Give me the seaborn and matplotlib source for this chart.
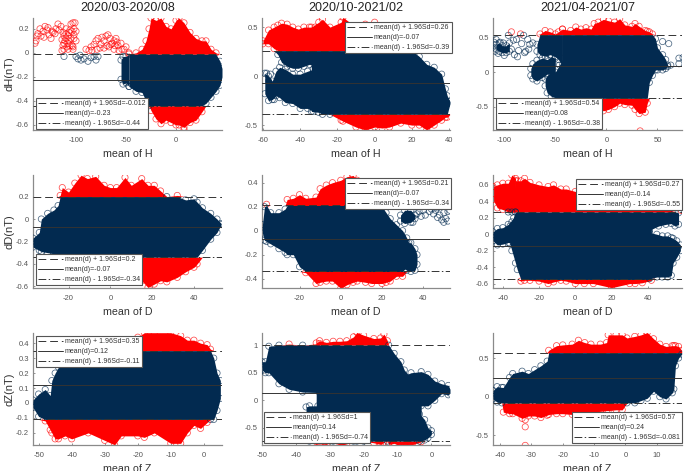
import numpy as np
import matplotlib
matplotlib.use("Agg")
import matplotlib.pyplot as plt
from matplotlib.lines import Line2D
import seaborn as sns

sns.set_theme(style="white")
plt.rcParams['font.family'] = ['Liberation Sans', 'DejaVu Sans']

NAVY = "#022a50"
RED = "#ff0000"
W, H = 685, 471

titles = ["2020/03-2020/08", "2020/10-2021/02", "2021/04-2021/07"]
components = ["H", "D", "Z"]

# limits of agreement per panel, row by row
upper_lim = [-0.012, 0.26, 0.54, 0.2, 0.21, 0.27, 0.35, 1, 0.57]
mean_d = [-0.23, -0.07, 0.08, -0.07, -0.07, -0.14, 0.12, 0.14, 0.24]
lower_lim = [-0.44, -0.39, -0.38, -0.34, -0.34, -0.55, -0.11, -0.74, -0.081]

# cloud outlines: x, top edge, bottom edge
h1_x = [-47, -40, -34, -30, -27, -25, -20, -15, -10, -5, 0, 3, 8, 14, 20, 26, 30, 35, 40, 44, 46]
h1_top = [-0.01, 0, 0.03, 0.1, 0.2, 0.29, 0.27, 0.29, 0.22, 0.2, 0.27, 0.29, 0.25, 0.17, 0.12, 0.1, 0.1, 0.03, 0, -0.07, -0.13]
h1_bot = [-0.28, -0.32, -0.33, -0.4, -0.44, -0.48, -0.55, -0.59, -0.56, -0.58, -0.6, -0.6, -0.62, -0.58, -0.56, -0.49, -0.42, -0.37, -0.32, -0.27, -0.2]
h1b_x = [-55, -53, -50, -47]
h1b_top = [-0.06, -0.03, -0.03, 0]
h1b_bot = [-0.22, -0.26, -0.25, -0.28]
h1_px = [-141, -140, -138, -136, -133, -131, -129, -127, -125, -123, -120, -118, -115, -113, -112, -110, -108, -106, -105, -103, -102, -101, -112, -110, -108, -105, -102, -114, -107, -104, -100, -112, -108, -103, -90, -87, -85, -82, -80, -78, -75, -72, -70, -68, -66, -64, -62, -60, -58, -55, -52, -50, -72, -67, -62, -57, -112, -100, -98, -96, -95, -92, -88, -85, -82, -80, -78, 8,
         -139, -135, -132, -128, -124, -121, -117, -114, -111, -109, -107, -104, -102, -106, -110, -113, -103, -100, -76, -74, -69, -65, -61, -59, -54, -84, -79]
h1_py = [0.08, 0.1, 0.16, 0.2, 0.18, 0.22, 0.19, 0.15, 0.12, 0.17, 0.2, 0.24, 0.22, 0.17, 0.14, 0.2, 0.08, 0.19, 0.24, 0.25, 0.2, 0.25, 0.08, 0.12, 0.03, 0.12, 0.15, 0.02, 0.17, 0.06, 0.1, 0.03, 0.14, 0.03, 0.03, 0.02, 0.05, 0.07, 0.1, 0.12, 0.07, 0.1, 0.14, 0.15, 0.12, 0.08, 0.1, 0.12, 0.06, 0.08, 0.03, 0.05, 0.04, 0.05, 0.03, 0.02, -0.03, -0.03, -0.05, -0.02, -0.06, -0.05, -0.07, -0.04, -0.03, -0.06, -0.03, -0.64,
         0.14, 0.14, 0.13, 0.21, 0.18, 0.16, 0.19, 0.11, 0.1, 0.05, 0.1, 0.18, 0.12, 0.06, 0.16, 0.06, 0.05, 0.18, 0.04, 0.13, 0.06, 0.07, 0.06, 0.09, 0.03, 0.02, 0.03]

h2a_x = [-60, -57, -54, -52, -50, -47, -44, -41, -38, -35, -32]
h2a_top = [0.36, 0.47, 0.5, 0.52, 0.54, 0.53, 0.5, 0.48, 0.5, 0.5, 0.5]
h2a_bot = [0.33, 0.33, 0.28, 0.22, 0.14, 0.1, 0.08, 0.08, 0.1, 0.12, 0.1]
h2b_x = [-59, -57, -55, -53, -51, -48, -44, -40, -36, -33]
h2b_top = [0.03, 0, -0.05, 0.05, 0.09, 0.07, 0.02, 0.02, 0.05, 0.07]
h2b_bot = [-0.18, -0.25, -0.24, -0.2, -0.22, -0.27, -0.28, -0.33, -0.33, -0.36]
h2_x = [-34, -30, -28, -24, -18, -17, -10, -5, 0, 4, 8, 14, 20, 24, 28, 32, 36, 38, 39, 40.5]
h2_top = [0.5, 0.55, 0.58, 0.5, 0.55, 0.6, 0.5, 0.53, 0.55, 0.5, 0.45, 0.3, 0.26, 0.2, 0.12, 0.09, 0.02, -0.13, -0.2, -0.26]
h2_bot = [-0.36, -0.37, -0.39, -0.39, -0.45, -0.46, -0.52, -0.55, -0.52, -0.53, -0.52, -0.48, -0.5, -0.5, -0.55, -0.5, -0.45, -0.42, -0.42, -0.28]
h2_px = [-58, -57, -56, -55, -54, -56]
h2_py = [0.03, -0.05, -0.12, -0.2, -0.24, 0.02]

h3a_x = [-68, -65, -60, -55, -50, -47, -43]
h3a_top = [0.4, 0.55, 0.6, 0.58, 0.55, 0.58, 0.62]
h3a_bot = [0.3, 0.25, 0.23, 0.25, 0.22, 0.18, 0.1]
h3b_x = [-74, -72, -68, -63, -58, -54, -50]
h3b_top = [0.05, 0.12, 0.17, 0.2, 0.18, 0.22, 0.2]
h3b_bot = [-0.05, -0.1, -0.13, -0.08, -0.03, -0.02, -0.05]
h3c_x = [-60, -58, -54, -50, -46, -42]
h3c_top = [-0.1, -0.05, 0, 0, 0.1, 0.2]
h3c_bot = [-0.2, -0.3, -0.35, -0.37, -0.38, -0.38]
h3d_x = [-108, -105, -102, -98, -95]
h3d_top = [0.4, 0.42, 0.38, 0.38, 0.42]
h3d_bot = [0.33, 0.3, 0.28, 0.28, 0.3]
h3_x = [-43, -35, -30, -25, -20, -15, -12, -8, -3, 2, 8, 13, 18, 25, 28, 32, 38, 40, 42, 45, 48, 50, 55, 58, 60]
h3_top = [0.62, 0.6, 0.65, 0.62, 0.64, 0.62, 0.7, 0.72, 0.76, 0.74, 0.72, 0.77, 0.68, 0.66, 0.7, 0.66, 0.6, 0.59, 0.58, 0.55, 0.48, 0.35, 0.25, 0.18, 0.1]
h3_bot = [-0.38, -0.45, -0.5, -0.48, -0.52, -0.52, -0.53, -0.53, -0.56, -0.54, -0.5, -0.45, -0.47, -0.48, -0.54, -0.6, -0.58, -0.45, -0.15, -0.05, 0.03, 0.03, 0.03, 0.05, 0.08]
h3_px = [-111, -110, -109, -108, -106, -104, -101, -100, -96, -93, -91, -90, -88, -86, -84, -83, -81, -79, -77, -75, -72, -93, -87, -80, -76, 55, 61, 71, 75, 71, 63, 33]
h3_py = [0.36, 0.43, 0.3, 0.47, 0.27, 0.43, 0.42, 0.24, 0.53, 0.33, 0.46, 0.25, 0.47, 0.31, 0.55, 0.41, 0.53, 0.3, 0.47, 0.4, 0.42, 0.58, 0.22, 0.28, 0.33, 0.44, 0.41, 0.2, 0.21, 0.12, 0.1, -0.85]

d1_x = [-37, -34, -33, -30, -27, -25, -24, -23, -20, -17, -14, -11, -7, -3, 0, 3, 7, 10, 15, 18, 21, 24, 27, 32, 36, 40, 41.5, 44, 48, 51, 53]
d1_top = [-0.17, -0.12, 0, 0.05, 0.08, 0.12, 0.21, 0.28, 0.24, 0.32, 0.39, 0.36, 0.38, 0.3, 0.28, 0.28, 0.37, 0.3, 0.36, 0.3, 0.3, 0.25, 0.2, 0.21, 0.17, 0.18, 0.15, 0.1, 0.05, 0, -0.04]
d1_bot = [-0.25, -0.28, -0.29, -0.3, -0.31, -0.32, -0.32, -0.33, -0.34, -0.35, -0.36, -0.36, -0.38, -0.4, -0.42, -0.44, -0.47, -0.5, -0.55, -0.61, -0.58, -0.55, -0.56, -0.52, -0.47, -0.43, -0.4, -0.28, -0.18, -0.12, -0.05]

d2_x = [-38, -37, -36, -34, -30, -27, -26, -23, -20, -17, -12, -10, -7, -4, 0, 3, 6, 8, 12, 15, 20, 22, 24, 27, 30, 32, 33]
d2_top = [0.05, 0.2, 0.22, 0.15, 0.15, 0.18, 0.26, 0.27, 0.3, 0.27, 0.28, 0.35, 0.38, 0.4, 0.42, 0.45, 0.46, 0.42, 0.3, 0.25, 0.2, 0.15, 0.1, 0.05, 0, -0.06, -0.1]
d2_bot = [-0.02, -0.08, -0.09, -0.11, -0.15, -0.18, -0.2, -0.2, -0.3, -0.35, -0.44, -0.43, -0.42, -0.42, -0.48, -0.45, -0.43, -0.42, -0.43, -0.44, -0.44, -0.43, -0.42, -0.38, -0.38, -0.3, -0.27]
d2b_x = [30, 32, 34, 36, 37]
d2b_top = [-0.05, -0.1, -0.1, -0.15, -0.2]
d2b_bot = [-0.3, -0.33, -0.34, -0.33, -0.28]
d2c_x = [29, 31, 34, 36]
d2c_top = [0.13, 0.17, 0.17, 0.13]
d2c_bot = [0.08, 0.06, 0.07, 0.1]
d2_px = [33, 35, 37, 38, 39, 40, 41, 43, 44, 45, 46, 47, 48, 49, 50, 51, 52, 53, 52, 50, 47]
d2_py = [0.1, 0.07, 0.14, 0.16, 0.12, 0.17, 0.13, 0.16, 0.18, 0.14, 0.17, 0.19, 0.13, 0.09, 0.07, 0.1, 0.16, 0.17, 0.08, 0.15, 0.11]

d3a_x = [-45.4, -43, -40, -37, -35, -33]
d3a_top = [0.58, 0.6, 0.62, 0.62, 0.72, 0.68]
d3a_bot = [0.42, 0.32, 0.3, 0.27, 0.27, 0.27]
d3b_x = [-45.4, -43, -40, -37, -34, -33]
d3b_top = [0.03, 0.07, 0.08, 0.12, 0.2, 0.27]
d3b_bot = [-0.08, -0.13, -0.12, -0.1, -0.12, -0.14]
d3_x = [-36, -35, -33, -32, -30, -28, -25, -20, -15, -12, -8, -5, 0, 5, 10, 20, 30, 33, 37, 42]
d3_top = [0.1, 0.15, 0.65, 0.65, 0.65, 0.68, 0.63, 0.6, 0.58, 0.6, 0.55, 0.55, 0.52, 0.45, 0.4, 0.32, 0.3, 0.31, 0.32, 0.3]
d3_bot = [-0.12, -0.2, -0.35, -0.43, -0.57, -0.56, -0.56, -0.57, -0.6, -0.58, -0.56, -0.57, -0.6, -0.6, -0.6, -0.65, -0.6, -0.6, -0.59, -0.56]
d3c_x = [41, 46, 50, 53, 55, 57]
d3c_top = [0.3, 0.29, 0.29, 0.29, 0.27, 0.26]
d3c_bot = [0.05, 0.1, 0.12, 0.13, 0.1, 0.12]
d3d_x = [41, 45, 48, 51, 53, 54, 56, 58]
d3d_top = [0.02, 0, -0.02, -0.02, -0.04, -0.05, -0.08, -0.13]
d3d_bot = [-0.54, -0.52, -0.52, -0.52, -0.5, -0.35, -0.28, -0.2]
d3_px = [58.5]
d3_py = [0.29]

z1_x = [-51.7, -50, -48, -46.5, -46, -45, -44, -42, -40, -35, -30, -27, -25, -20, -18, -15, -10, -7, -5, -3, -1, 1, 2, 3, 4, 5]
z1_top = [0.02, 0.06, 0.09, 0.05, 0.15, 0.2, 0.24, 0.28, 0.3, 0.35, 0.36, 0.42, 0.38, 0.44, 0.47, 0.47, 0.47, 0.45, 0.42, 0.42, 0.4, 0.39, 0.36, 0.3, 0.2, 0.15]
z1_bot = [-0.03, -0.09, -0.12, -0.18, -0.2, -0.24, -0.24, -0.22, -0.24, -0.2, -0.25, -0.28, -0.22, -0.22, -0.23, -0.2, -0.27, -0.27, -0.2, -0.15, -0.17, -0.13, -0.11, -0.11, -0.05, 0.03]

z2a_x = [-50, -49, -48, -45, -42, -38, -33]
z2a_top = [0.7, 0.7, 0.98, 1, 1.02, 1, 1.03]
z2a_bot = [0.55, 0.5, 0.5, 0.3, 0.2, 0.15, 0.14]
z2b_x = [-37, -36, -33.5]
z2b_top = [-0.12, -0.1, -0.1]
z2b_bot = [-0.72, -0.74, -0.75]
z2_x = [-34, -33, -31, -29, -27, -25, -23, -22, -20, -17, -15, -14, -13, -12.6, -11, -9, -8, -6, -4, -3]
z2_top = [1.04, 1.08, 1.05, 1.07, 1.07, 1.08, 1.15, 1.23, 1.18, 1.12, 1.13, 1.2, 1.08, 1.0, 0.85, 0.7, 0.55, 0.4, 0.3, 0.3]
z2_bot = [-0.75, -0.79, -0.8, -0.74, -0.82, -0.79, -0.74, -0.74, -0.74, -0.77, -0.8, -0.76, -0.74, -0.8, -0.78, -0.83, -0.82, -0.81, -0.77, -0.75]
z2c_x = [-8, -6, -3, -1, 1, 3, 5, 5.5]
z2c_top = [0.45, 0.5, 0.52, 0.47, 0.35, 0.3, 0.27, 0.2]
z2c_bot = [-0.1, -0.1, -0.1, -0.1, 0, 0.12, 0.1, 0.13]
z2d_x = [-3.5, -2, -1, 0]
z2d_top = [-0.25, -0.35, -0.5, -0.55]
z2d_bot = [-0.74, -0.72, -0.68, -0.62]

z3_x = [-42.3, -41, -39.5, -39, -37, -36, -33, -31, -29, -27, -25, -24.5, -22, -20, -17, -15, -13, -11, -8, -6, -5.5, -3, -1, 0.5, 3, 5, 7, 9, 11, 13, 15, 15.5, 16, 17, 18]
z3_top = [0.08, 0.13, 0.12, 0.12, 0.25, 0.3, 0.33, 0.3, 0.35, 0.4, 0.46, 0.6, 0.66, 0.67, 0.68, 0.73, 0.7, 0.68, 0.68, 0.7, 0.8, 0.8, 0.8, 0.76, 0.78, 0.8, 0.83, 0.75, 0.68, 0.65, 0.66, 0.66, 0.66, 0.65, 0.6]
z3_bot = [-0.03, -0.07, -0.08, -0.2, -0.22, -0.22, -0.28, -0.25, -0.25, -0.27, -0.24, -0.23, -0.22, -0.22, -0.23, -0.24, -0.22, -0.2, -0.19, -0.18, -0.18, -0.17, -0.17, -0.08, -0.08, -0.05, -0.02, 0.07, 0, -0.03, 0.05, 0.1, 0.4, 0.5, 0.55]
z3_px = [-32, -32, -32]
z3_py = [-0.3, -0.39, -0.63]

# axes boxes in pixels and the matching data limits
col_px = [(33, 222), (262, 450), (493, 682)]
row_px = [(18, 130), (175, 287.7), (333, 445.3)]
panels = [
    dict(blobs=[(h1b_x, h1b_top, h1b_bot), (h1_x, h1_top, h1_bot)], pts=(h1_px, h1_py),
         xlim=(-143, 46), ylim=(-0.642, 0.29), xt=[-100, -50, 0], yt=[-0.6, -0.4, -0.2, 0, 0.2], leg=(36, 98)),
    dict(blobs=[(h2a_x, h2a_top, h2a_bot), (h2b_x, h2b_top, h2b_bot), (h2_x, h2_top, h2_bot)], pts=(h2_px, h2_py),
         xlim=(-60.5, 40.5), ylim=(-0.55, 0.593), xt=[-60, -40, -20, 0, 20, 40], yt=[-0.5, 0, 0.5], leg=(345, 22)),
    dict(blobs=[(h3d_x, h3d_top, h3d_bot), (h3a_x, h3a_top, h3a_bot), (h3b_x, h3b_top, h3b_bot), (h3c_x, h3c_top, h3c_bot), (h3_x, h3_top, h3_bot)], pts=(h3_px, h3_py),
         xlim=(-111, 74), ylim=(-0.837, 0.78), xt=[-100, -50, 0, 50], yt=[-0.5, 0, 0.5], leg=(496, 98)),
    dict(blobs=[(d1_x, d1_top, d1_bot)], pts=None,
         xlim=(-37, 53.4), ylim=(-0.612, 0.392), xt=[-20, 0, 20, 40], yt=[-0.6, -0.4, -0.2, 0, 0.2], leg=(36, 254)),
    dict(blobs=[(d2b_x, d2b_top, d2b_bot), (d2c_x, d2c_top, d2c_bot), (d2_x, d2_top, d2_bot)], pts=(d2_px, d2_py),
         xlim=(-38.2, 53), ylim=(-0.475, 0.464), xt=[-20, 0, 20, 40], yt=[-0.4, -0.2, 0, 0.2, 0.4], leg=(345, 178)),
    dict(blobs=[(d3a_x, d3a_top, d3a_bot), (d3b_x, d3b_top, d3b_bot), (d3_x, d3_top, d3_bot), (d3c_x, d3c_top, d3c_bot), (d3d_x, d3d_top, d3d_bot)], pts=(d3_px, d3_py),
         xlim=(-45.4, 58.9), ylim=(-0.65, 0.72), xt=[-40, -20, 0, 20, 40], yt=[-0.6, -0.4, -0.2, 0, 0.2, 0.4, 0.6], leg=(576, 179)),
    dict(blobs=[(z1_x, z1_top, z1_bot)], pts=None,
         xlim=(-51.7, 5.5), ylim=(-0.283, 0.468), xt=[-50, -40, -30, -20, -10, 0], yt=[-0.2, -0.1, 0, 0.1, 0.2, 0.3, 0.4], leg=(36, 336)),
    dict(blobs=[(z2a_x, z2a_top, z2a_bot), (z2b_x, z2b_top, z2b_bot), (z2_x, z2_top, z2_bot), (z2c_x, z2c_top, z2c_bot), (z2d_x, z2d_top, z2d_bot)], pts=None,
         xlim=(-50, 5.5), ylim=(-0.815, 1.22), xt=[-50, -40, -30, -20, -10, 0], yt=[-0.5, 0, 0.5, 1], leg=(264, 412)),
    dict(blobs=[(z3_x, z3_top, z3_bot)], pts=(z3_px, z3_py),
         xlim=(-42.3, 18.1), ylim=(-0.629, 0.824), xt=[-40, -30, -20, -10, 0, 10], yt=[-0.5, 0, 0.5], leg=(572, 412)),
]


def rings(ax, x, y, hi, lo):
    x, y = np.asarray(x), np.asarray(y)
    out = (y > hi) | (y < lo)
    for mask, col in [(out, RED), (~out, NAVY)]:
        if mask.any():
            sns.scatterplot(x=x[mask], y=y[mask], ax=ax, s=20, legend=False, zorder=3)
            pts = ax.collections[-1]
            pts.set_facecolor("none")
            pts.set_edgecolor(col)
            pts.set_linewidth(0.55)
            pts.set_alpha(0.7)


fig = plt.figure(figsize=(W / 100, H / 100), dpi=100)
for i, p in enumerate(panels):
    r, c = i // 3, i % 3
    x0, x1 = col_px[c]
    y0, y1 = row_px[r]
    ax = fig.add_axes([x0 / W, 1 - y1 / H, (x1 - x0) / W, (y1 - y0) / H])
    hi, lo, mid = upper_lim[i], lower_lim[i], mean_d[i]

    for bx, bt, bb in p["blobs"]:
        bx, bt, bb = np.asarray(bx, float), np.asarray(bt, float), np.asarray(bb, float)
        ax.fill_between(bx, np.maximum(bt, hi), np.minimum(np.maximum(bb, hi), np.maximum(bt, hi)), color=RED, lw=0, zorder=1)
        ax.fill_between(bx, np.minimum(bb, lo), np.maximum(np.minimum(bt, lo), np.minimum(bb, lo)), color=RED, lw=0, zorder=1)
    for bx, bt, bb in p["blobs"]:
        rings(ax, bx, bt, hi, lo)
        rings(ax, bx, bb, hi, lo)
    if p["pts"] is not None:
        rings(ax, p["pts"][0], p["pts"][1], hi, lo)
    for bx, bt, bb in p["blobs"]:
        bx, bt, bb = np.asarray(bx, float), np.asarray(bt, float), np.asarray(bb, float)
        ax.fill_between(bx, np.clip(bt, lo, hi), np.clip(bb, lo, hi), color=NAVY, lw=0, zorder=4)

    ax.axhline(hi, color="#333333", lw=0.7, ls=(0, (8, 4)), zorder=5)
    ax.axhline(mid, color="#333333", lw=0.7, zorder=5)
    ax.axhline(lo, color="#333333", lw=0.7, ls=(0, (8, 2.5, 1.5, 2.5)), zorder=5)

    ax.set_xlim(p["xlim"])
    ax.set_ylim(p["ylim"])
    ax.set_xticks(p["xt"])
    ax.set_xticklabels([f"{v:g}" for v in p["xt"]])
    ax.set_yticks(p["yt"])
    ax.set_yticklabels([f"{v:g}" for v in p["yt"]])
    ax.tick_params(axis="x", pad=5)
    ax.tick_params(axis="y", pad=3)
    ax.tick_params(direction="in", length=1.5, width=0.5, color="#666666", labelsize=5.5,
                   labelcolor="#555555", bottom=True, left=True)
    sns.despine(ax=ax)
    for side in ["left", "bottom"]:
        ax.spines[side].set_color("#8a8a8a")
        ax.spines[side].set_linewidth(0.9)

    ax.set_xlabel(f"mean of {components[r]}", fontsize=7.7, color="#333333", labelpad=3.5)
    if c == 0:
        ax.set_ylabel(f"d{components[r]}(nT)", fontsize=8, color="#333333", labelpad=1)
    if r == 0:
        ax.set_title(titles[c], fontsize=9, color="#222222", pad=5)

    handles = [
        Line2D([], [], color="#333333", lw=0.7, ls=(0, (8, 4))),
        Line2D([], [], color="#333333", lw=0.7),
        Line2D([], [], color="#333333", lw=0.7, ls=(0, (8, 2.5, 1.5, 2.5))),
    ]
    labels = [f"mean(d) + 1.96Sd={hi:g}", f"mean(d)={mid:g}", f"mean(d) - 1.96Sd={lo:g}"]
    leg = ax.legend(handles, labels, loc="upper left", bbox_to_anchor=(p["leg"][0] / W, 1 - p["leg"][1] / H),
                    bbox_transform=fig.transFigure, fontsize=5, frameon=True, fancybox=False,
                    framealpha=1, edgecolor="#555555", handlelength=3.5, handletextpad=0.3,
                    labelspacing=0.4, borderpad=0.35, borderaxespad=0, labelcolor="#333333")
    leg.get_frame().set_linewidth(0.8)
    leg.set_zorder(10)

fig.savefig("out.png", dpi=100)
